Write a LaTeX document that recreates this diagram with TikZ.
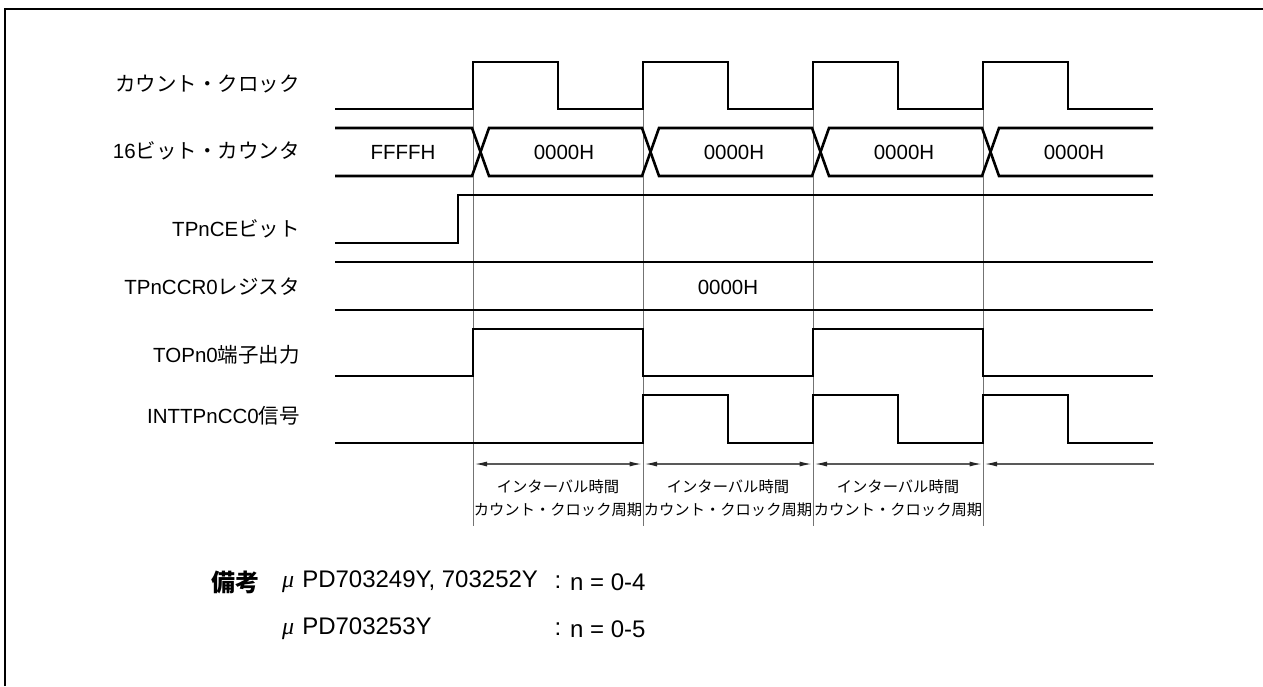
\documentclass[tikz,border=0pt]{standalone}
\usepackage{fontspec}
\setmainfont{Liberation Sans}
\newfontfamily\jp{Noto Sans CJK JP}
\newfontfamily\serifgr{Liberation Serif}
\usetikzlibrary{arrows.meta}
\begin{document}
\begin{tikzpicture}[x=1pt,y=-1pt,
  >={Latex[length=12pt,width=5pt,color=black!85]},
  sig/.style={line width=2.6pt, line join=miter},
  guide/.style={draw=black!55, line width=1pt},
  meas/.style={draw=black!65, line width=1.1pt},
  lbl/.style={anchor=east, inner sep=0pt, font=\fontsize{20.5}{24}\selectfont},
  val/.style={inner sep=0pt, font=\fontsize{20.5}{24}\selectfont},
  small/.style={inner sep=0pt, font=\fontsize{15.3}{18}\selectfont\jp},
  note/.style={anchor=west, inner sep=0pt, font=\fontsize{24}{28}\selectfont}]
\useasboundingbox (0,0) rectangle (1263,686);
\fill[white] (0,0) rectangle (1263,686);
% frame
\draw[line width=2.3pt] (5,686) -- (5,9) -- (1263,9);
% guide lines
\coordinate (atop) at (473,62); \coordinate (abot) at (473,526); \coordinate (am) at (473,464);
\coordinate (btop) at (643,62); \coordinate (bbot) at (643,526); \coordinate (bm) at (643,464);
\coordinate (ctop) at (813,62); \coordinate (cbot) at (813,526); \coordinate (cm) at (813,464);
\coordinate (dtop) at (983,62); \coordinate (dbot) at (983,526); \coordinate (dm) at (983,464);
\coordinate (mend) at (1154,464);
\draw[guide] (atop) -- (abot);
\draw[guide] (btop) -- (bbot);
\draw[guide] (ctop) -- (cbot);
\draw[guide] (dtop) -- (dbot);
% labels
\node[lbl] (lclk) at (300,84) {{\jp カウント・クロック}};
\node[lbl] (lcnt) at (300,151) {16{\jp ビット・カウンタ}};
\node[lbl] (lce) at (300,229) {TPnCE{\jp ビット}};
\node[lbl] (lccr) at (300,287) {TPnCCR0{\jp レジスタ}};
\node[lbl] (ltop) at (300,355) {TOPn0{\jp 端子出力}};
\node[lbl] (lint) at (300,416) {INTTPnCC0{\jp 信号}};
% count clock
\draw[sig] (335,109) -- (473,109) -- (473,62) -- (558,62) -- (558,109) -- (643,109) -- (643,62) -- (728,62) -- (728,109) -- (813,109) -- (813,62) -- (898,62) -- (898,109) -- (983,109) -- (983,62) -- (1068,62) -- (1068,109) -- (1153,109);
% 16-bit counter
\draw[sig] (335,128) -- (472,128) -- (489,176) -- (642,176) -- (659,128) -- (812,128) -- (829,176) -- (982,176) -- (999,128) -- (1153,128);
\draw[sig] (335,176) -- (472,176) -- (489,128) -- (642,128) -- (659,176) -- (812,176) -- (829,128) -- (982,128) -- (999,176) -- (1153,176);
\node[val] (c0) at (403,152) {FFFFH};
\node[val] (c1) at (564,152) {0000H};
\node[val] (c2) at (734,152) {0000H};
\node[val] (c3) at (904,152) {0000H};
\node[val] (c4) at (1074,152) {0000H};
% TPnCE
\draw[sig] (335,243) -- (458,243) -- (458,195) -- (1153,195);
% TPnCCR0
\draw[sig] (335,262) -- (1153,262);
\draw[sig] (335,310) -- (1153,310);
\node[val] (r0) at (728,287) {0000H};
% TOPn0
\draw[sig] (335,376) -- (473,376) -- (473,329) -- (643,329) -- (643,376) -- (813,376) -- (813,329) -- (983,329) -- (983,376) -- (1153,376);
% INTTPnCC0
\draw[sig] (335,443) -- (643,443) -- (643,395) -- (728,395) -- (728,443) -- (813,443) -- (813,395) -- (898,395) -- (898,443) -- (983,443) -- (983,395) -- (1068,395) -- (1068,443) -- (1153,443);
% interval arrows
\draw[meas, <->, shorten <=2pt, shorten >=1.5pt] (am) -- (bm);
\draw[meas, <->, shorten <=2pt, shorten >=1.5pt] (bm) -- (cm);
\draw[meas, <->, shorten <=2pt, shorten >=1.5pt] (cm) -- (dm);
\draw[meas, <-, shorten <=2pt] (dm) -- (mend);
% interval texts
\node[small] (i1a) at (558,487) {インターバル時間};
\node[small] (i1b) at (558,510) {カウント・クロック周期};
\node[small] (i2a) at (728,487) {インターバル時間};
\node[small] (i2b) at (728,510) {カウント・クロック周期};
\node[small] (i3a) at (898,487) {インターバル時間};
\node[small] (i3b) at (898,510) {カウント・クロック周期};
% note
\node[note] (nb) at (211,582) {{\jp\bfseries 備考}};
\node[note] (n1) at (282,582) {{\serifgr\itshape μ}\hspace{8pt}PD703249Y, 703252Y};
\node[note] (n2) at (282,629) {{\serifgr\itshape μ}\hspace{8pt}PD703253Y};
\node[note, anchor=center] (k1) at (558,582) {:};
\node[note, anchor=center] (k2) at (558,629) {:};
\node[note] (v1) at (570,582) {n = 0-4};
\node[note] (v2) at (570,629) {n = 0-5};
\end{tikzpicture}
\end{document}
